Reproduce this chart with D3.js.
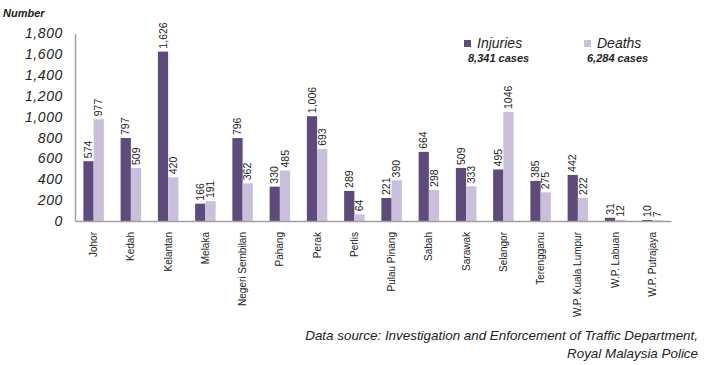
<!DOCTYPE html>
<html><head><meta charset="utf-8">
<script src="https://cdn.jsdelivr.net/npm/d3@7/dist/d3.min.js"></script>
<style>body{margin:0;background:#fff}svg{display:block;font-family:"Liberation Sans",Arial,sans-serif}</style>
</head><body><svg id="c" width="706" height="365"></svg>
<script>
const categories=["Johor","Kedah","Kelantan","Melaka","Negeri Sembilan","Pahang","Perak","Perlis","Pulau Pinang","Sabah","Sarawak","Selangor","Terengganu","W.P. Kuala Lumpur","W.P. Labuan","W.P. Putrajaya"];
const injuries=[574,797,1626,166,796,330,1006,289,221,664,509,495,385,442,31,10];
const deaths=[977,509,420,191,362,485,693,64,390,298,333,1046,275,222,12,7];
const injuryLabels=["574","797","1,626","166","796","330","1,006","289","221","664","509","495","385","442","31","10"];
const deathLabels=["977","509","420","191","362","485","693","64","390","298","333","1046","275","222","12","7"];
const yTicks=[0,200,400,600,800,1000,1200,1400,1600,1800];
const seriesNames=["Injuries","Deaths"];
const seriesTotals=["8,341 cases","6,284 cases"];
const colors=["#5f4b7b","#cbc0dc"];

const svg=d3.select("#c");
const x0=75,x1=671,yBase=221,yTop=33;
const x=d3.scaleBand().domain(categories).range([x0,x1]).paddingInner(0.45).paddingOuter(0.225);
const xs=d3.scaleBand().domain(seriesNames).range([0,x.bandwidth()]);
const y=d3.scaleLinear().domain([0,1800]).range([yBase,yTop+0.5]);

const series=[injuries,deaths];
const labels=[injuryLabels,deathLabels];
series.forEach((vals,si)=>{
  svg.append("g").selectAll("rect").data(vals).join("rect")
    .attr("x",(d,i)=>x(categories[i])+xs(seriesNames[si]))
    .attr("width",xs.bandwidth())
    .attr("y",d=>y(d)).attr("height",d=>yBase-y(d))
    .attr("fill",colors[si]);
  svg.append("g").selectAll("text").data(vals).join("text")
    .attr("transform",(d,i)=>`translate(${x(categories[i])+xs(seriesNames[si])+xs.bandwidth()/2},${y(d)-3}) rotate(-90)`)
    .attr("dy","0.35em").attr("font-size",10.5).attr("fill","#222")
    .text((d,i)=>labels[si][i]);
});

const yAxis=d3.axisLeft(y).tickValues(yTicks).tickSize(0).tickPadding(12).tickFormat(d3.format(","));
const gy=svg.append("g").attr("transform",`translate(${x0},0)`).call(yAxis);
gy.select(".domain").attr("stroke","#a0a0a0").attr("stroke-width",1.5);
gy.selectAll("text").attr("font-size",14).attr("font-style","italic").attr("fill","#222").attr("letter-spacing","0.6px").attr("font-family","Liberation Sans,Arial");

const xAxis=d3.axisBottom(x).tickSize(0).tickPadding(0);
const gx=svg.append("g").attr("transform",`translate(0,${yBase})`).call(xAxis);
gx.select(".domain").attr("stroke","#a0a0a0").attr("stroke-width",1.5);
gx.selectAll("text").attr("font-size",10).attr("fill","#222").attr("font-family","Liberation Sans,Arial")
  .attr("text-anchor","end").attr("dy","0.35em")
  .attr("transform","translate(0,11) rotate(-90)").attr("y",0).attr("x",0);

svg.append("text").attr("x",3).attr("y",17).attr("font-size",11).attr("font-weight","bold").attr("font-style","italic").attr("fill","#222").text("Number");

const lg=[{sx:464,tx:477,cx:468},{sx:584,tx:597,cx:587}];
lg.forEach((p,i)=>{
  svg.append("rect").attr("x",p.sx).attr("y",40).attr("width",7).attr("height",7).attr("fill",colors[i]);
  svg.append("text").attr("x",p.tx).attr("y",48).attr("font-size",14).attr("font-style","italic").attr("fill","#222").text(seriesNames[i]);
  svg.append("text").attr("x",p.cx).attr("y",62).attr("font-size",11).attr("font-style","italic").attr("font-weight","bold").attr("fill","#222").text(seriesTotals[i]);
});

svg.append("text").attr("x",698).attr("y",340).attr("text-anchor","end").attr("font-size",13.4).attr("font-style","italic").attr("fill","#222").text("Data source: Investigation and Enforcement of Traffic Department,");
svg.append("text").attr("x",698).attr("y",358).attr("text-anchor","end").attr("font-size",13.4).attr("font-style","italic").attr("fill","#222").text("Royal Malaysia Police");
</script></body></html>
